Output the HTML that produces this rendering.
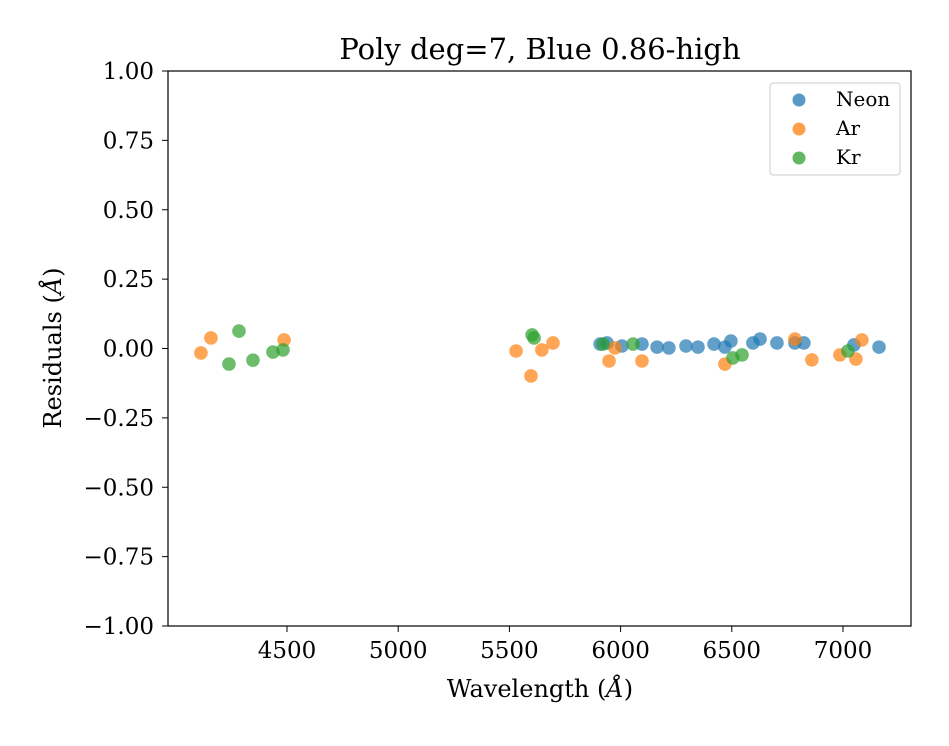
<!DOCTYPE html>
<html><head><meta charset="utf-8"><style>
body{margin:0;background:#fff}
svg text{font-family:"DejaVu Serif","Liberation Serif",serif;fill:#000}
</style></head><body>
<svg width="949" height="741" xmlns="http://www.w3.org/2000/svg">
<rect width="949" height="741" fill="#fff"/>
<text x="540" y="59" font-size="29" text-anchor="middle">Poly deg=7, Blue 0.86-high</text>
<g id="ticks"></g>
<g id="marks"></g>
<rect x="168" y="71" width="743" height="555" fill="none" stroke="#000" stroke-width="1.2"/>
<text x="540" y="697" font-size="24" text-anchor="middle">Wavelength (<tspan font-style="italic">Å</tspan>)</text>
<text transform="translate(61,348) rotate(-90)" font-size="24" text-anchor="middle">Residuals (<tspan font-style="italic">Å</tspan>)</text>
<g>
<rect x="770" y="83" width="130" height="92" rx="3" fill="#fff" fill-opacity="0.8" stroke="#ccc"/>
<circle cx="799" cy="100" r="6.5" fill="#1f77b4" fill-opacity="0.75"/>
<text x="836" y="106" font-size="20">Neon</text>
<circle cx="799" cy="129" r="6.5" fill="#ff7f0e" fill-opacity="0.75"/>
<text x="836" y="135" font-size="20">Ar</text>
<circle cx="799" cy="158" r="6.5" fill="#2ca02c" fill-opacity="0.75"/>
<text x="836" y="164" font-size="20">Kr</text>
</g>
</svg>
<script>
const xTicks=[4500,5000,5500,6000,6500,7000];
const yTicks=[1.00,0.75,0.50,0.25,0.00,-0.25,-0.50,-0.75,-1.00];
const neonX=[5908,5939,6006,6096,6164,6217,6294,6348,6420,6469,6496,6595,6627,6703,6784,6824,7049,7162];
const neonY=[0.016,0.020,0.009,0.016,0.005,0.002,0.009,0.005,0.016,0.005,0.027,0.020,0.034,0.020,0.020,0.020,0.013,0.005];
const arX=[4113,4158,4487,5530,5597,5646,5696,5948,5975,6096,6469,6784,6860,6986,7058,7085];
const arY=[-0.016,0.038,0.031,-0.009,-0.099,-0.005,0.020,-0.045,0.002,-0.045,-0.056,0.034,-0.041,-0.023,-0.038,0.031];
const krX=[4239,4284,4347,4437,4482,5602,5611,5921,6056,6505,6546,7022];
const krY=[-0.056,0.063,-0.042,-0.013,-0.005,0.049,0.038,0.016,0.016,-0.034,-0.023,-0.009];
const NS="http://www.w3.org/2000/svg";
function xs(v){return 287+(v-4500)*(556/2500);}
function ys(v){return 348.5-v*277.5;}
const tg=document.getElementById('ticks');
xTicks.forEach(t=>{
 const l=document.createElementNS(NS,'line');
 l.setAttribute('x1',xs(t));l.setAttribute('x2',xs(t));l.setAttribute('y1',626);l.setAttribute('y2',632);l.setAttribute('stroke','#000');
 
 
 tg.appendChild(l);
 const tx=document.createElementNS(NS,'text');
 tx.setAttribute('x',xs(t));tx.setAttribute('y',658);tx.setAttribute('font-size','23');tx.setAttribute('text-anchor','middle');
 tx.textContent=t;
 
 
 tg.appendChild(tx);
});
yTicks.forEach(t=>{
 const l=document.createElementNS(NS,'line');
 l.setAttribute('x1',162);l.setAttribute('x2',168);l.setAttribute('y1',ys(t));l.setAttribute('y2',ys(t));l.setAttribute('stroke','#000');
 
 
 tg.appendChild(l);
 const tx=document.createElementNS(NS,'text');
 tx.setAttribute('x',154);tx.setAttribute('y',ys(t)+8);tx.setAttribute('font-size','23');tx.setAttribute('text-anchor','end');
 tx.textContent=(t<0?'\u2212':'')+Math.abs(t).toFixed(2);
 
 
 tg.appendChild(tx);
});
const mg=document.getElementById('marks');
function series(X,Y,c,n){X.forEach((x,i)=>{
 const p=document.createElementNS(NS,'circle');
 p.setAttribute('cx',xs(x));p.setAttribute('cy',ys(Y[i]));p.setAttribute('r',6.8);
 p.setAttribute('fill',c);p.setAttribute('fill-opacity','0.7');
 
 
 mg.appendChild(p);});}
series(neonX,neonY,'#1f77b4','neon-point');
series(arX,arY,'#ff7f0e','ar-point');
series(krX,krY,'#2ca02c','kr-point');
</script>
</body></html>
